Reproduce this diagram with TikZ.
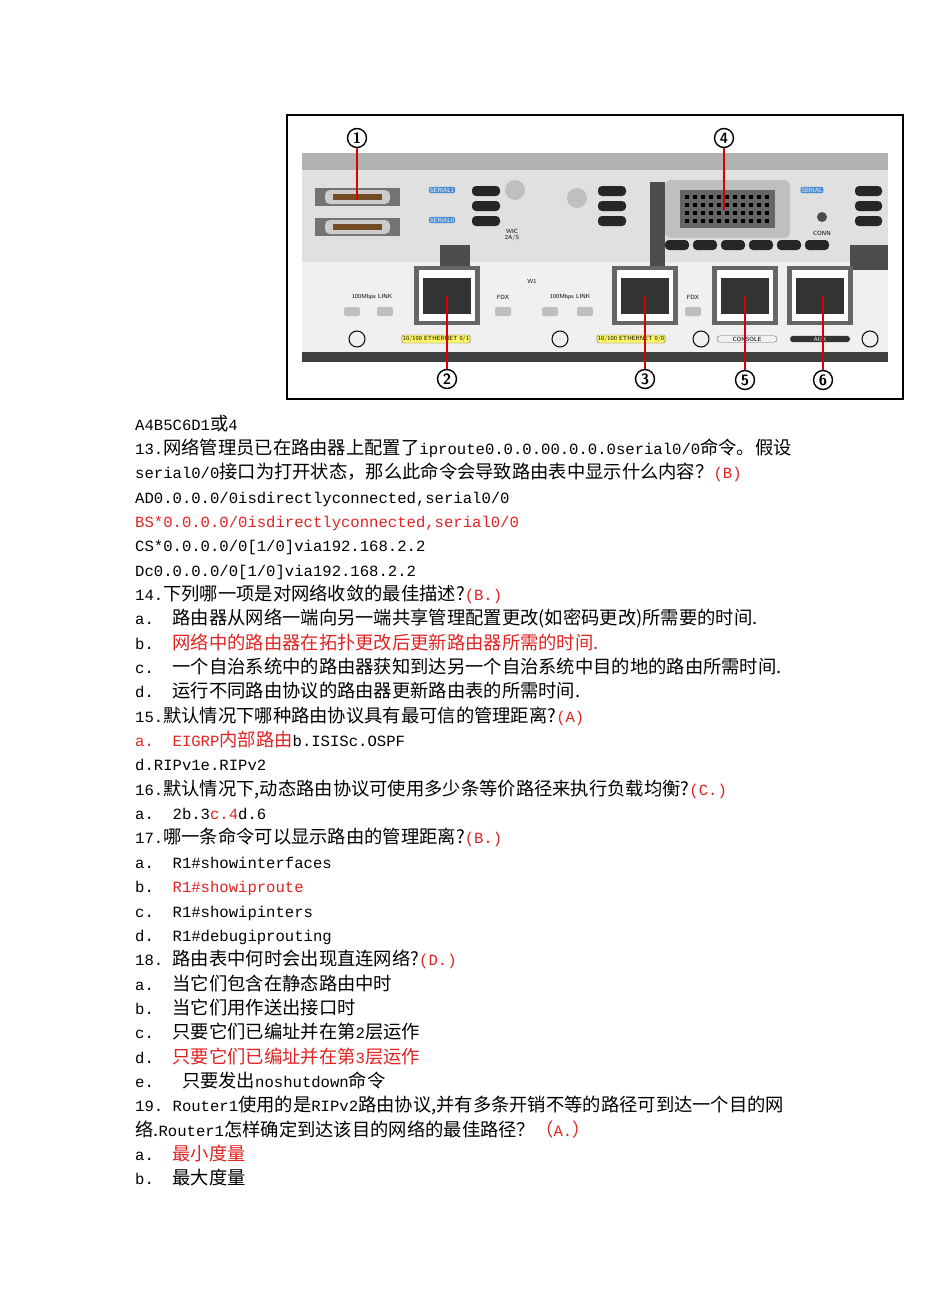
\documentclass[tikz,border=0pt]{standalone}
\usepackage{fontspec}
\setmainfont{Liberation Mono}
\newfontfamily\cjk{Noto Sans CJK SC}
\definecolor{ans}{RGB}{225,35,35}
\definecolor{lbl}{RGB}{70,140,210}
\newcommand\C[1]{{\cjk\fontsize{18.3}{18}\selectfont #1}}
\tikzset{ln/.style={anchor=base west,inner sep=0pt,font=\fontsize{15.6}{18}\selectfont},
 red/.style={text=ans},
 num/.style={circle,draw=black,line width=1.4pt,fill=white,inner sep=0pt,minimum size=19pt,font=\sffamily\bfseries\fontsize{15}{15}\selectfont},
 rl/.style={draw=red!85!black,line width=2.6pt},
 slot/.style={fill=black!85,rounded corners=4pt},
 tiny/.style={font=\sffamily\fontsize{6}{6}\selectfont,inner sep=1pt}}
\begin{document}
\begin{tikzpicture}[x=1pt,y=-1pt]
\useasboundingbox (0,0) rectangle (950,1314);
\fill[white] (0,0) rectangle (950,1314);
% photo
\fill[black!12] (302,153) rectangle (888,262);
\fill[black!30] (302,153) rectangle (888,170);
\fill[black!6] (302,262) rectangle (888,352);
\fill[black!75] (302,352) rectangle (888,362);
\fill[white] (302,362) rectangle (888,396);
\foreach \yy in {197,227}{
 \fill[black!55] (315,\yy-9) rectangle (400,\yy+9);
 \fill[black!20,rounded corners=5pt] (325,\yy-7) rectangle (390,\yy+7);
 \fill[brown!60!black] (333,\yy-3) rectangle (382,\yy+3);}
\node[tiny,fill=lbl,text=white,rounded corners=2pt] (s1) at (442,190) {SERIAL1};
\node[tiny,fill=lbl,text=white,rounded corners=2pt] (s0) at (442,220) {SERIAL0};
\node[tiny] (c1) at (450,248) {CONN};
\node[tiny,align=center] (w1) at (512,235) {WIC\\2A/S};
\node[tiny] (w2) at (532,281) {W1};
\foreach \yy in {191,206,221}{\fill[slot] (472,\yy-5) rectangle (500,\yy+5);\fill[slot] (598,\yy-5) rectangle (626,\yy+5);\fill[slot] (855,\yy-5) rectangle (882,\yy+5);}
\fill[black!25] (515,190) circle (10pt);
\fill[black!25] (577,198) circle (10pt);
\fill[black!70] (650,182) rectangle (665,270);
\fill[black!70] (850,245) rectangle (888,270);
\fill[black!70] (440,245) rectangle (470,270);
\fill[black!25,rounded corners=6pt] (665,180) rectangle (790,238);
\fill[black!60] (680,190) rectangle (775,228);
\foreach \xx in {685,693,...,770}{\foreach \yy in {195,203,...,225}{\fill[black] (\xx,\yy) rectangle +(4,4);}}
\foreach \xx in {605,633,661,689,717,745}{\fill[slot] (\xx+60,240) rectangle (\xx+84,250);}
\node[tiny,fill=lbl,text=white,rounded corners=2pt] (s2) at (812,190) {SERIAL};
\fill[black!70] (822,217) circle (5pt);
\node[tiny] (c2) at (822,233) {CONN};
\foreach \xx in {447,645,745,820}{
 \fill[black!60] (\xx-33,266) rectangle (\xx+33,325);
 \fill[white] (\xx-28,270) rectangle (\xx+28,321);
 \fill[black!80] (\xx-24,278) rectangle (\xx+24,314);}
\node[tiny] (l1) at (372,297) {100Mbps LINK};
\node[tiny] (l2) at (570,297) {100Mbps LINK};
\node[tiny] (f1) at (503,297) {FDX};
\node[tiny] (f2) at (693,297) {FDX};
\foreach \xx in {352,385,503,550,585,693}{\fill[black!25,rounded corners=2pt] (\xx-8,307) rectangle (\xx+8,316);}
\node[tiny,fill=yellow!60,draw=black!60,rounded corners=2pt] (e1) at (436,339) {10/100 ETHERNET 0/1};
\node[tiny,fill=yellow!60,draw=black!60,rounded corners=2pt] (e0) at (631,339) {10/100 ETHERNET 0/0};
\node[tiny,draw=black!60,rounded corners=3pt,minimum width=60pt] (co) at (747,339) {CONSOLE};
\node[tiny,fill=black!80,text=white,rounded corners=3pt,minimum width=60pt] (ax) at (820,339) {AUX};
\foreach \xx in {357,560,701,870}{\draw[line width=1pt] (\xx,339) circle (8pt);}
\node[num] (n1) at (357,138) {1};
\node[num] (n4) at (724,138) {4};
\node[num] (n2) at (447,379) {2};
\node[num] (n3) at (645,379) {3};
\node[num] (n5) at (745,380) {5};
\node[num] (n6) at (823,380) {6};
\coordinate (t1) at (357,200); \coordinate (t4) at (724,210);
\coordinate (t2) at (447,296); \coordinate (t3) at (645,296);
\coordinate (t5) at (745,296); \coordinate (t6) at (823,296);
\draw[rl] (n1) -- (t1); \draw[rl] (n4) -- (t4);
\draw[rl] (n2) -- (t2); \draw[rl] (n3) -- (t3);
\draw[rl] (n5) -- (t5); \draw[rl] (n6) -- (t6);
\draw[line width=2pt] (287,115) rectangle (903,399);
% text
\def\L{24.35}
\node[ln] (a0) at (135,430) {A4B5C6D1\C{或}4};
\node[ln] (a1) at (135,430+\L) {13.\C{网络管理员已在路由器上配置了}iproute0.0.0.00.0.0.0serial0/0\C{命令。假设}};
\node[ln] (a2) at (135,430+2*\L) {serial0/0\C{接口为打开状态，那么此命令会导致路由表中显示什么内容？}\textcolor{ans}{(B)}};
\node[ln] (a3) at (135,430+3*\L) {AD0.0.0.0/0isdirectlyconnected,serial0/0};
\node[ln,red] (a4) at (135,430+4*\L) {BS*0.0.0.0/0isdirectlyconnected,serial0/0};
\node[ln] (a5) at (135,430+5*\L) {CS*0.0.0.0/0[1/0]via192.168.2.2};
\node[ln] (a6) at (135,430+6*\L) {Dc0.0.0.0/0[1/0]via192.168.2.2};
\node[ln] (a7) at (135,430+7*\L) {14.\C{下列哪一项是对网络收敛的最佳描述?}\textcolor{ans}{(B.)}};
\node[ln] (a8) at (135,430+8*\L) {a.\ \ \C{路由器从网络一端向另一端共享管理配置更改(如密码更改)所需要的时间.}};
\node[ln] (a9) at (135,430+9*\L) {b.\ \ \textcolor{ans}{\C{网络中的路由器在拓扑更改后更新路由器所需的时间.}}};
\node[ln] (a10) at (135,430+10*\L) {c.\ \ \C{一个自治系统中的路由器获知到达另一个自治系统中目的地的路由所需时间.}};
\node[ln] (a11) at (135,430+11*\L) {d.\ \ \C{运行不同路由协议的路由器更新路由表的所需时间.}};
\node[ln] (a12) at (135,430+12*\L) {15.\C{默认情况下哪种路由协议具有最可信的管理距离?}\textcolor{ans}{(A)}};
\node[ln] (a13) at (135,430+13*\L) {\textcolor{ans}{a.\ \ EIGRP\C{内部路由}}b.ISISc.OSPF};
\node[ln] (a14) at (135,430+14*\L) {d.RIPv1e.RIPv2};
\node[ln] (a15) at (135,430+15*\L) {16.\C{默认情况下,动态路由协议可使用多少条等价路径来执行负载均衡?}\textcolor{ans}{(C.)}};
\node[ln] (a16) at (135,430+16*\L) {a.\ \ 2b.3\textcolor{ans}{c.4}d.6};
\node[ln] (a17) at (135,430+17*\L) {17.\C{哪一条命令可以显示路由的管理距离?}\textcolor{ans}{(B.)}};
\node[ln] (a18) at (135,430+18*\L) {a.\ \ R1\#showinterfaces};
\node[ln] (a19) at (135,430+19*\L) {b.\ \ \textcolor{ans}{R1\#showiproute}};
\node[ln] (a20) at (135,430+20*\L) {c.\ \ R1\#showipinters};
\node[ln] (a21) at (135,430+21*\L) {d.\ \ R1\#debugiprouting};
\node[ln] (a22) at (135,430+22*\L) {18.\ \C{路由表中何时会出现直连网络?}\textcolor{ans}{(D.)}};
\node[ln] (a23) at (135,430+23*\L) {a.\ \ \C{当它们包含在静态路由中时}};
\node[ln] (a24) at (135,430+24*\L) {b.\ \ \C{当它们用作送出接口时}};
\node[ln] (a25) at (135,430+25*\L) {c.\ \ \C{只要它们已编址并在第}2\C{层运作}};
\node[ln] (a26) at (135,430+26*\L) {d.\ \ \textcolor{ans}{\C{只要它们已编址并在第}3\C{层运作}}};
\node[ln] (a27) at (135,430+27*\L) {e.\ \ \ \C{只要发出}noshutdown\C{命令}};
\node[ln] (a28) at (135,430+28*\L) {19.\ Router1\C{使用的是}RIPv2\C{路由协议,并有多条开销不等的路径可到达一个目的网}};
\node[ln] (a29) at (135,430+29*\L) {\C{络.}Router1\C{怎样确定到达该目的网络的最佳路径？}\textcolor{ans}{\C{（}A.\C{）}}};
\node[ln] (a30) at (135,430+30*\L) {a.\ \ \textcolor{ans}{\C{最小度量}}};
\node[ln] (a31) at (135,430+31*\L) {b.\ \ \C{最大度量}};
\end{tikzpicture}
\end{document}
